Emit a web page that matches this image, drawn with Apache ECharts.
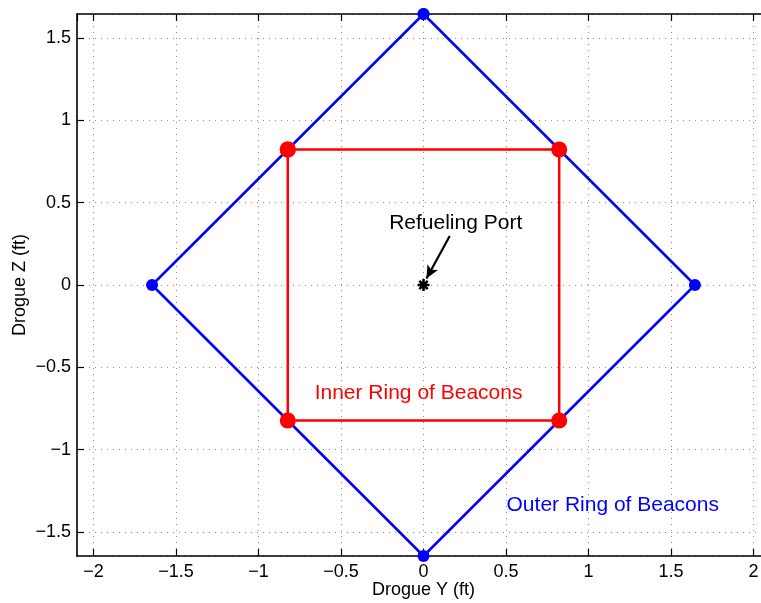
<!DOCTYPE html>
<html>
<head>
<meta charset="utf-8">
<script src="https://cdn.jsdelivr.net/npm/echarts@6/dist/echarts.min.js"></script>
<style>
  html, body { margin: 0; padding: 0; background: #fff; }
  #chart { width: 761px; height: 603px; }
</style>
</head>
<body>
<div id="chart"></div>
<script>
// Beacon layout on the drogue face (feet)
const outerRing = [[0, 1.645], [1.645, 0], [0, -1.645], [-1.645, 0], [0, 1.645]];
const innerRing = [[-0.8225, 0.8225], [0.8225, 0.8225], [0.8225, -0.8225], [-0.8225, -0.8225], [-0.8225, 0.8225]];
const refuelPort = [[0, 0]];

// Text annotations: [y, z, text, colour]
const annotations = [
  [0.195, 0.375, 'Refueling Port', '#000000'],
  [-0.03, -0.655, 'Inner Ring of Beacons', '#ff0000'],
  [1.147, -1.337, 'Outer Ring of Beacons', '#0000ff']
];
// Arrow from the port label to the port
const arrowFrom = [0.159, 0.298];
const arrowTo = [0.018, 0.04];

const xRange = [-2.1, 2.1];
const yRange = [-1.645, 1.645];
const tickStep = 0.5;

const FONT = "'Liberation Sans', Arial, Helvetica, sans-serif";

function fmt(v) {
  if (Math.abs(v / tickStep - Math.round(v / tickStep)) > 1e-6) return '';
  const r = Math.round(v * 100) / 100;
  return String(r).replace('-', '\u2212');
}

const gridLine = { show: true, lineStyle: { color: '#8c8c8c', width: 1, type: [1, 5] } };
const axisLine = { show: true, onZero: false, lineStyle: { color: '#000', width: 1.6 } };
const tick = { show: true, inside: true, length: 7, lineStyle: { color: '#000', width: 1.2 } };

const chart = echarts.init(document.getElementById('chart'));
chart.setOption({
  animation: false,
  backgroundColor: '#fff',
  grid: { left: 77, top: 14, width: 693, height: 542, containLabel: false, outerBoundsMode: 'none' },
  xAxis: [{
    type: 'value', min: xRange[0], max: xRange[1],
    minInterval: tickStep, maxInterval: tickStep,
    position: 'bottom',
    axisLine: axisLine, axisTick: tick, splitLine: gridLine,
    axisLabel: { formatter: fmt, color: '#000', fontSize: 18, fontFamily: FONT, margin: 7, showMinLabel: false, showMaxLabel: false },
    name: 'Drogue Y (ft)', nameLocation: 'middle', nameGap: 34, nameMoveOverlap: false,
    nameTextStyle: { color: '#000', fontSize: 18, fontFamily: FONT, verticalAlign: 'middle' }
  }, {
    type: 'value', min: xRange[0], max: xRange[1],
    minInterval: tickStep, maxInterval: tickStep,
    position: 'top',
    axisLine: axisLine, axisTick: tick, splitLine: { show: false },
    axisLabel: { show: false }
  }],
  yAxis: [{
    type: 'value', min: yRange[0], max: yRange[1],
    minInterval: tickStep, maxInterval: tickStep,
    position: 'left',
    axisLine: axisLine, axisTick: tick, splitLine: gridLine,
    axisLabel: { formatter: fmt, color: '#000', fontSize: 18, fontFamily: FONT, margin: 6, showMinLabel: false, showMaxLabel: false },
    name: 'Drogue Z (ft)', nameLocation: 'middle', nameGap: 57, nameMoveOverlap: false,
    nameTextStyle: { color: '#000', fontSize: 18, fontFamily: FONT, verticalAlign: 'middle' }
  }],
  series: [
    {
      type: 'line', data: outerRing,
      symbol: 'circle', symbolSize: 12, showAllSymbol: true,
      lineStyle: { color: '#0000ff', width: 2.5 },
      itemStyle: { color: '#0000ff' }, z: 2
    },
    {
      type: 'line', data: innerRing,
      symbol: 'circle', symbolSize: 16, showAllSymbol: true,
      lineStyle: { color: '#ff0000', width: 2.5 },
      itemStyle: { color: '#ff0000' }, z: 3
    },
    {
      type: 'scatter', data: refuelPort,
      symbol: 'path://M0,-5L0,5M-5,0L5,0M-3.5,-3.5L3.5,3.5M-3.5,3.5L3.5,-3.5',
      symbolSize: 12,
      itemStyle: { color: 'none', borderColor: '#000', borderWidth: 2.6, opacity: 1 }, z: 4,
      markLine: {
        silent: true, animation: false,
        symbol: ['none', 'arrow'], symbolSize: [9, 13],
        label: { show: false },
        lineStyle: { color: '#000', width: 2.2, type: 'solid', opacity: 1 },
        data: [[{ coord: arrowFrom }, { coord: arrowTo }]]
      }
    },
    {
      type: 'scatter', symbolSize: 0, z: 5, silent: true,
      itemStyle: { opacity: 1 },
      data: annotations.map(a => ({
        value: [a[0], a[1]],
        label: { show: true, position: 'inside', formatter: a[2], color: a[3], fontSize: 21, fontFamily: FONT, opacity: 1 }
      }))
    }
  ]
});
</script>
</body>
</html>
